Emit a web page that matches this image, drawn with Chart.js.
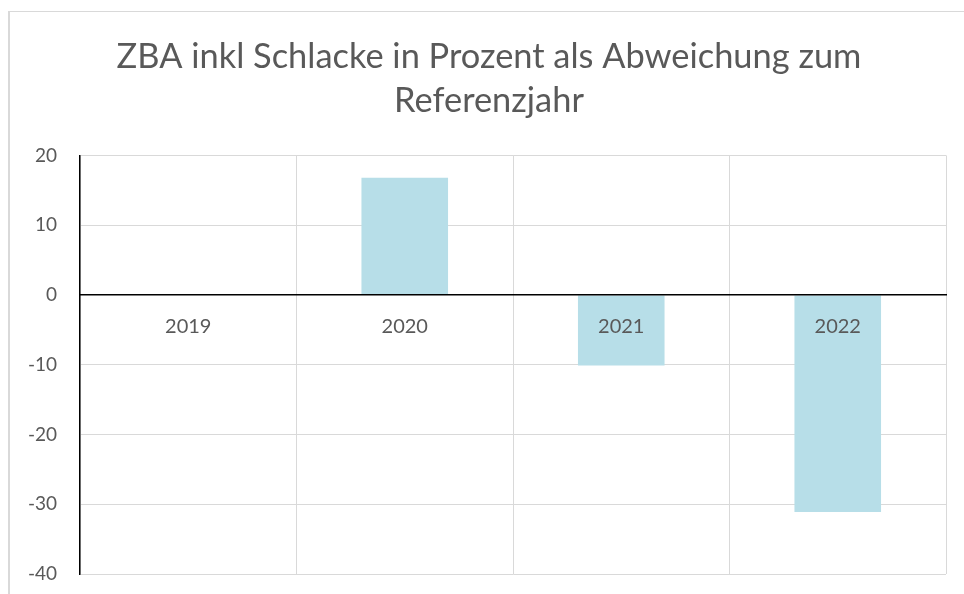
<!DOCTYPE html>
<html>
<head>
<meta charset="utf-8">
<script src="https://cdn.jsdelivr.net/npm/chart.js@4/dist/chart.umd.min.js"></script>
<style>
    html, body { margin: 0; padding: 0; background: #fff; }
    #wrap { position: relative; width: 964px; height: 594px; overflow: hidden; }
    #frame {
        position: absolute; left: 8px; top: 11px; width: 1000px; height: 700px;
        border-left: 2px solid #d9d9d9; border-top: 1px solid #d9d9d9;
        pointer-events: none;
    }
    canvas { position: absolute; left: 0; top: 0; }
</style>
</head>
<body>
<div id="wrap">
    <canvas id="chart" width="964" height="594"></canvas>
    <div id="frame"></div>
</div>
<script>
const TITLE_LINES = ['ZBA inkl Schlacke in Prozent als Abweichung zum', 'Referenzjahr'];
const YEARS = ['2019', '2020', '2021', '2022'];
const DEVIATION = [0, 16.8, -10.1, -31.1];
const Y_MIN = -40;
const Y_MAX = 20;
const Y_STEP = 10;

const TEXT = '#595959';
const GRID = '#d9d9d9';
const FONT = "Lato, 'Open Sans', sans-serif";

// the y labels would be clipped at the layout padding otherwise
const yLabelRoom = {
    id: 'yLabelRoom',
    afterLayout(chart) {
        chart.scales.y.left = 0;
    }
};

new Chart(document.getElementById('chart'), {
    type: 'bar',
    data: {
        labels: YEARS,
        datasets: [{
            data: DEVIATION,
            backgroundColor: '#b7dee8',
            borderWidth: 0,
            categoryPercentage: 1,
            barPercentage: 0.4
        }]
    },
    plugins: [yLabelRoom],
    options: {
        responsive: false,
        animation: false,
        layout: { padding: { left: 32, right: 18, top: 0, bottom: 20 } },
        plugins: {
            legend: { display: false },
            tooltip: { enabled: false },
            title: {
                display: true,
                text: TITLE_LINES,
                color: TEXT,
                font: { family: FONT, size: 34.4, weight: 'normal', lineHeight: 1.285 },
                padding: { top: 35, bottom: 32 }
            }
        },
        scales: {
            x: {
                position: { y: 0 },
                grid: { color: GRID, lineWidth: 1, drawTicks: false, offset: true },
                border: { color: '#000', width: 1.5, z: 1 },
                // labels sit on top of the bars, like in the original
                ticks: { color: TEXT, font: { family: FONT, size: 20 }, padding: 20, z: 1 },
                afterFit: (scale) => { scale.height = 0; }
            },
            y: {
                min: Y_MIN,
                max: Y_MAX,
                ticks: { stepSize: Y_STEP, color: TEXT, font: { family: FONT, size: 19 }, padding: 0 },
                grid: { color: GRID, lineWidth: 1, drawTicks: true, tickLength: 23, tickColor: 'rgba(0,0,0,0)' },
                border: { color: '#000', width: 1.5 },
                afterFit: (scale) => { scale.width = 48; }
            }
        }
    }
});
</script>
</body>
</html>
